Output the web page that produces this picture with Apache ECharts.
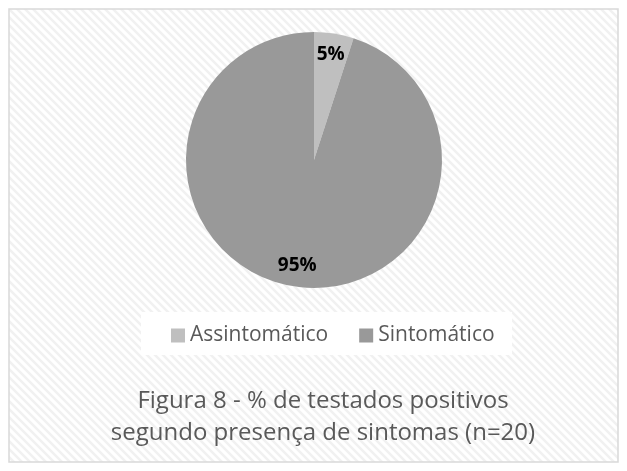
<!DOCTYPE html>
<html>
<head>
<meta charset="utf-8">
<script src="https://cdn.jsdelivr.net/npm/echarts@6/dist/echarts.min.js"></script>
<style>
  html, body { margin: 0; padding: 0; background: #fff; }
  #chart { width: 627px; height: 471px; }
</style>
</head>
<body>
<div id="chart"></div>
<script>
var categories = ['Assintomático', 'Sintomático'];
var values = [1, 19];
var colors = ['#bfbfbf', '#999999'];
var titleText = 'Figura 8 - % de testados positivos\nsegundo presença de sintomas (n=20)';

// diagonal hatch like the Excel chart area
var hatch = document.createElement('canvas');
hatch.width = 8;
hatch.height = 8;
var ctx = hatch.getContext('2d');
ctx.fillStyle = '#ffffff';
ctx.fillRect(0, 0, 8, 8);
ctx.strokeStyle = '#f1f1f1';
ctx.lineWidth = 2.5;
ctx.beginPath();
ctx.moveTo(-2, -2); ctx.lineTo(10, 10);
ctx.moveTo(-6, 2); ctx.lineTo(6, 14);
ctx.moveTo(2, -6); ctx.lineTo(14, 6);
ctx.stroke();

var chartDom = document.getElementById('chart');
var myChart = echarts.init(chartDom);

var pieData = categories.map(function (name, i) {
  return { name: name, value: values[i], itemStyle: { color: colors[i] } };
});

var option = {
  animation: false,
  textStyle: { fontFamily: 'Open Sans' },
  graphic: [
    {
      type: 'rect',
      shape: { x: 9, y: 9, width: 609, height: 453 },
      style: { fill: { image: hatch, repeat: 'repeat' }, stroke: '#d9d9d9', lineWidth: 1.5 },
      z: -10
    },
    {
      type: 'rect',
      shape: { x: 141, y: 312, width: 371, height: 43 },
      style: { fill: '#ffffff' },
      z: -5
    }
  ],
  title: {
    text: titleText,
    left: 318,
    textAlign: 'center',
    top: 380,
    textStyle: {
      fontFamily: 'Open Sans',
      fontSize: 24,
      fontWeight: 'normal',
      color: '#595959',
      lineHeight: 32
    }
  },
  legend: {
    data: categories,
    left: 166,
    top: 320,
    icon: 'rect',
    itemWidth: 14,
    itemHeight: 14,
    itemGap: 31,
    textStyle: { fontSize: 21, color: '#595959', fontFamily: 'Open Sans' }
  },
  series: [
    {
      type: 'pie',
      center: [314, 160],
      radius: [0, 128],
      startAngle: 90,
      clockwise: true,
      percentPrecision: 0,
      label: { show: false },
      labelLine: { show: false },
      emphasis: { disabled: true },
      data: pieData
    },
    {
      // transparent ring only used to place the percentage labels
      type: 'pie',
      center: [314, 160],
      radius: [70, 138],
      startAngle: 90,
      clockwise: true,
      percentPrecision: 0,
      silent: true,
      itemStyle: { color: 'transparent' },
      label: {
        show: true,
        position: 'inside',
        formatter: '{d}%',
        fontSize: 19,
        fontWeight: 'bold',
        color: '#000000',
        fontFamily: 'Open Sans'
      },
      labelLine: { show: false },
      emphasis: { disabled: true },
      data: categories.map(function (name, i) {
        return { name: name, value: values[i], itemStyle: { color: 'transparent' } };
      })
    }
  ]
};

myChart.setOption(option);
window.addEventListener('resize', () => myChart.resize());
</script>
</body>
</html>
